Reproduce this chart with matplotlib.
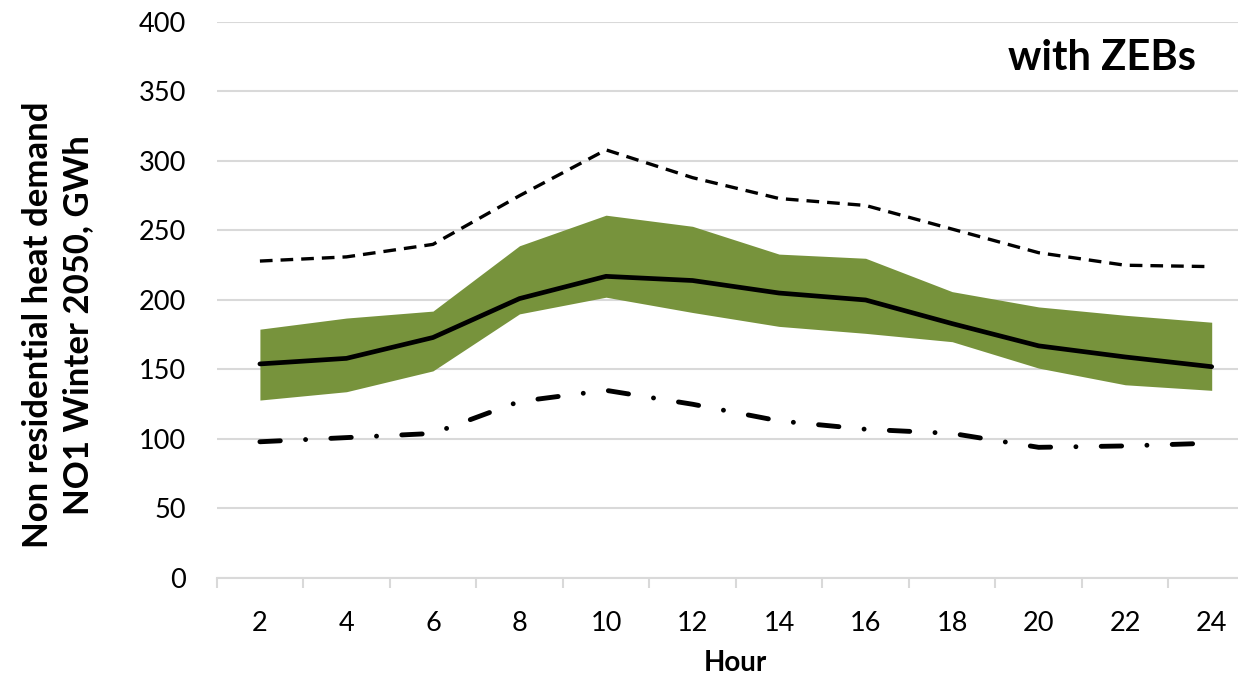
import matplotlib.pyplot as plt

hours = [2, 4, 6, 8, 10, 12, 14, 16, 18, 20, 22, 24]
mean_demand = [154, 158, 173, 201, 217, 214, 205, 200, 183, 167, 159, 152]
band_upper = [179, 187, 192, 239, 261, 253, 233, 230, 206, 195, 189, 184]
band_lower = [128, 134, 149, 190, 202, 191, 181, 176, 170, 151, 139, 135]
max_demand = [228, 231, 240, 275, 308, 288, 273, 268, 251, 234, 225, 224]
min_demand = [98, 101, 104, 127, 135, 125, 113, 107, 104, 94, 95, 97]

plt.rcParams['font.family'] = ['Lato', 'DejaVu Sans']

fig = plt.figure(figsize=(12.38, 6.78), dpi=100)
ax = fig.add_axes([0.175, 0.1475, 0.8387, 0.8201])

x = list(range(len(hours)))
ax.fill_between(x, band_lower, band_upper, color='#77933C', linewidth=0, zorder=2)
ax.plot(x, mean_demand, color='black', lw=3.4, solid_capstyle='round', zorder=3)
ax.plot(x, max_demand, color='black', lw=2.4, dashes=(3.8, 2.4), dash_capstyle='butt', zorder=3)
ax.plot(x, min_demand, color='black', lw=3.5, dashes=(4.2, 5.2, 0.01, 5.2),
        dash_capstyle='round', zorder=3)

ax.set_xlim(-0.5, len(hours) - 0.5)
ax.set_ylim(0, 400)
ax.set_yticks(range(0, 401, 50))
ax.set_xticks(x)
ax.set_xticklabels([str(h) for h in hours])
ax.set_xticks([i - 0.5 for i in range(len(hours) + 1)], minor=True)

ax.grid(axis='y', color='#d9d9d9', lw=1.5, zorder=0)
for s in ['top', 'right', 'left']:
    ax.spines[s].set_visible(False)
ax.spines['bottom'].set_color('#d9d9d9')
ax.spines['bottom'].set_linewidth(1.5)

ax.tick_params(axis='y', length=0, pad=22, labelsize=19.5)
ax.tick_params(axis='x', which='major', length=0, pad=24, labelsize=19.5)
ax.tick_params(axis='x', which='minor', length=7, width=1.5, color='#d9d9d9')

ax.set_ylabel('Non residential heat demand\nNO1 Winter 2050, GWh', fontsize=25,
              fontweight='bold', linespacing=1.3)
ax.yaxis.set_label_coords(-0.118, 0.455)
ax.set_xlabel('Hour', fontsize=20, fontweight='bold', labelpad=10)

fig.text(0.966, 0.915, 'with ZEBs', fontsize=30, fontweight='bold',
         ha='right', va='center')

fig.savefig('out.png', dpi=100)
